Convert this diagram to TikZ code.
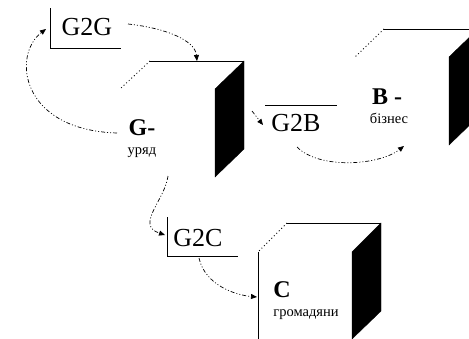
\documentclass[tikz,border=0pt]{standalone}
\usepackage{fontspec}
\setmainfont{Liberation Serif}
\usetikzlibrary{arrows.meta}
\begin{document}
\begin{tikzpicture}[x=1pt,y=-1pt,
  flow/.style={line width=0.7pt,
    dash pattern=on 4pt off 2pt on 1pt off 2pt on 1pt off 2pt,
    -{Triangle[length=6pt,width=5pt]}},
  edge/.style={line width=0.9pt},
  hidden/.style={line width=0.8pt, dash pattern=on 1pt off 2.5pt},
  side/.style={fill=black, draw=black, line width=0.4pt},
  tag/.style={font=\fontsize{26}{26}\selectfont, inner sep=0pt},
  who/.style={font=\bfseries\fontsize{24}{24}\selectfont, inner sep=0pt},
  role/.style={font=\fontsize{14.5}{14.5}\selectfont, inner sep=0pt}]
\clip (0,0) rectangle (469,338);

% ---- cube G (government)
\draw[edge] (150,61) -- (244,61);
\draw[hidden] (150,61) -- (120,89);
\filldraw[side] (215,89) -- (244,61) -- (244,149) -- (215,177) -- cycle;
\node[who]  (G)  at (142,128) {G-};
\node[role] (Gr) at (142,153) {уряд};

% ---- cube B (business)
\draw[edge] (384,29) -- (478,29);
\draw[hidden] (384,29) -- (355,57);
\filldraw[side] (449,57) -- (478,29) -- (478,117) -- (449,145) -- cycle;
\node[who]  (B)  at (387,97) {B -};
\node[role] (Br) at (389,118) {бізнес};

% ---- cube C (citizens)
\draw[edge] (287,223) -- (381,223);
\draw[hidden] (287,223) -- (258,252);
\draw[edge] (258,252) -- (258,339);
\filldraw[side] (352,252) -- (381,223) -- (381,311) -- (352,339) -- cycle;
\node[who]  (C)  at (282,290) {C};
\node[role] (Cr) at (306,315) {громадяни};

% ---- interaction labels
\node[tag] (g2g) at (87,27) {G2G};
\draw[edge] (50,8) -- (50,48) -- (121,48);
\node[tag] (g2b) at (296,123) {G2B};
\draw[edge] (265,105) -- (337,105);
\node[tag] (g2c) at (198,238) {G2C};
\draw[edge] (167,217) -- (167,256) -- (238,256);

% ---- connector end points
\coordinate (g2gOut) at (128,24);
\coordinate (gTop)   at (197,61);
\coordinate (gLeft)  at (117,133);
\coordinate (g2gIn)  at (46,29);
\coordinate (gSide)  at (252,111);
\coordinate (g2bIn)  at (263,125);
\coordinate (g2bOut) at (297,147);
\coordinate (bIn)    at (404,146);
\coordinate (gDown)  at (168,176);
\coordinate (g2cIn)  at (165,235);
\coordinate (g2cOut) at (199,258);
\coordinate (cIn)    at (257,297);

% ---- connectors
\draw[flow] (g2gOut) .. controls (165,28) and (195,40) .. (gTop);
\draw[flow] (gLeft) .. controls (20,130) and (12,55) .. (g2gIn);
\draw[flow] (gSide) -- (g2bIn);
\draw[flow] (g2bOut) .. controls (320,170) and (380,165) .. (bIn);
\draw[flow] (gDown) .. controls (165,200) and (135,225) .. (g2cIn);
\draw[flow] (g2cOut) .. controls (205,285) and (235,295) .. (cIn);
\end{tikzpicture}
\end{document}
